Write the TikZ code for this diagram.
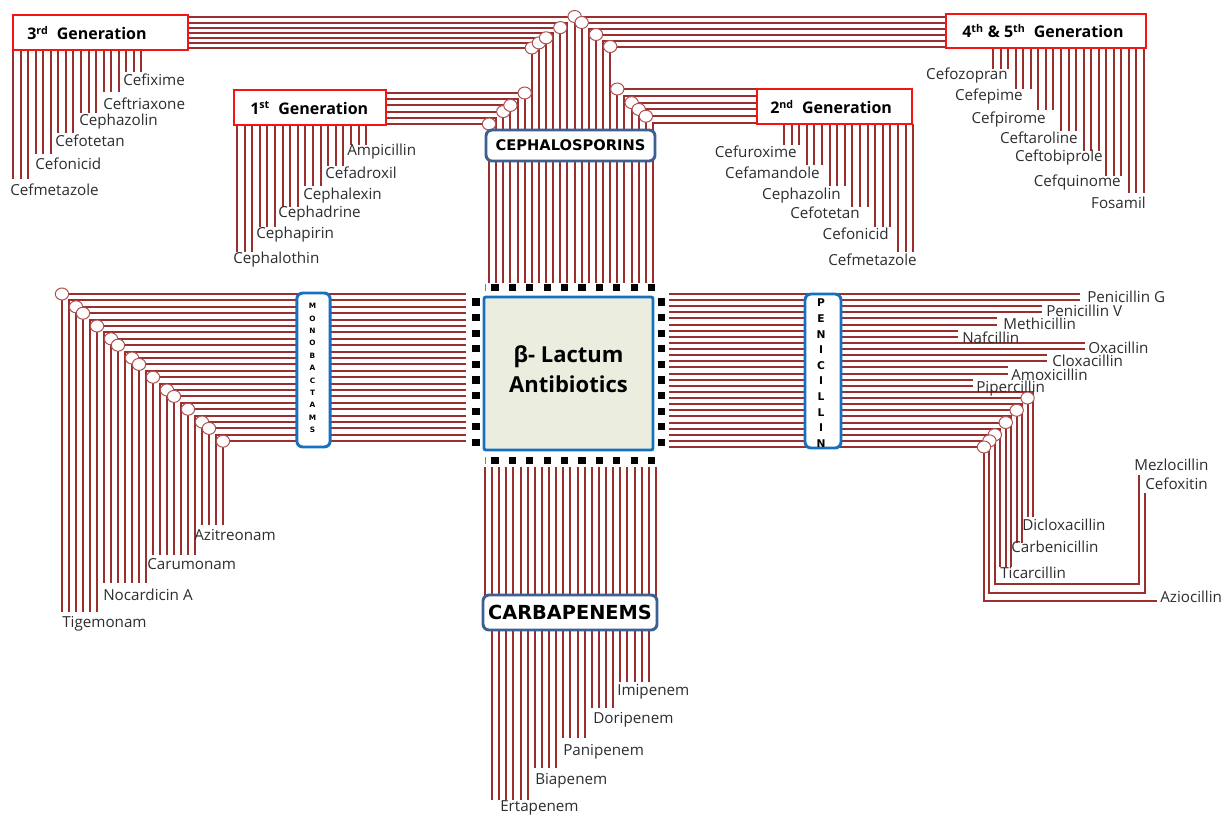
\documentclass[tikz,border=0pt]{standalone}
\usepackage{fontspec}
\setmainfont{Open Sans}
\newfontfamily\capfont{DejaVu Sans}
\usetikzlibrary{shapes.geometric}

\definecolor{wire}{RGB}{155,46,46}
\definecolor{jointrim}{RGB}{175,80,80}
\definecolor{genred}{RGB}{245,20,20}
\definecolor{capblue}{RGB}{60,96,146}
\definecolor{chipblue}{RGB}{22,112,192}
\definecolor{chipfill}{RGB}{235,238,222}
\definecolor{druggray}{RGB}{45,45,45}

% one group of hanging wires: x0, dx, last index, top y, list of end y (one per 3 wires)
\newcommand\hangwires[5]{%
  \foreach \ii in {0,...,#3}{%
    \pgfmathtruncatemacro\grp{int(\ii/3)}%
    \pgfmathsetmacro\ye{{#5}[\grp]}%
    \draw[wireline] ({#1+#2*\ii},#4) -- ({#1+#2*\ii},\ye);}}

\begin{document}
\begin{tikzpicture}[x=0.75pt,y=-0.75pt,
  wireline/.style={draw=wire,line width=1.5pt},
  joint/.style={ellipse,draw=jointrim,fill=white,line width=0.75pt,inner sep=0pt,minimum width=10pt,minimum height=9pt},
  pad/.style={fill=black,inner sep=0pt,minimum size=5.3pt},
  genbox/.style={draw=genred,line width=1.5pt,fill=white,inner sep=0pt,minimum height=26.25pt},
  gentext/.style={font=\bfseries\fontsize{12}{14}\selectfont,anchor=west,inner sep=0pt},
  capbox/.style={draw=capblue,line width=2.2pt,fill=white,rounded corners=4.5pt,inner sep=0pt,font=\capfont\bfseries},
  chipbox/.style={draw=chipblue,line width=2.2pt,fill=white,rounded corners=4.5pt,inner sep=0pt,minimum width=25pt,minimum height=115.5pt},
  drug/.style={font=\fontsize{11.4}{13}\selectfont,text=druggray,inner sep=0pt},
  chipletter/.style={font=\capfont\bfseries\fontsize{5.5}{6}\selectfont,inner sep=0pt},
  penletter/.style={font=\capfont\bfseries\fontsize{8}{9}\selectfont,inner sep=0pt},
]
\useasboundingbox (0,0) rectangle (1223,814);

% ---------- cephalosporin wires ----------
\foreach \k in {0,...,5}{%
  \pgfmathsetmacro\xx{489+7.13*\k}\pgfmathsetmacro\yy{124-6.2*\k}%
  \draw[wireline] (386,\yy) -| (\xx,283);}
\foreach \k in {6,...,11}{%
  \pgfmathsetmacro\xx{489+7.13*\k}\pgfmathsetmacro\yy{48-5.1*(\k-6)}%
  \draw[wireline] (188,\yy) -| (\xx,283);}
\draw[wireline] (188,16.5) -- (946,16.5);
\draw[wireline] (574.6,16.5) -- (574.6,283);
\foreach \k in {13,...,17}{%
  \pgfmathsetmacro\xx{489+7.13*\k}\pgfmathsetmacro\yy{22.5+6*(\k-13)}%
  \draw[wireline] (946,\yy) -| (\xx,283);}
\foreach \k in {18,...,23}{%
  \pgfmathsetmacro\xx{489+7.13*\k}\pgfmathsetmacro\yy{89+6.8*(\k-18)}%
  \draw[wireline] (757,\yy) -| (\xx,283);}

% hanging wires under the generation boxes
\hangwires{13}{7.55}{17}{50}{179,154,133,113,92,72}
\hangwires{237}{7.6}{17}{125}{252,227,207,186,166,145}
\hangwires{784}{7.6}{17}{124}{145,165,186,207,227,252}
\hangwires{993}{7.55}{20}{48}{69,89,110,131,151,176,193}

% ---------- monobactam wires ----------
\foreach \i in {0,...,23}{%
  \pgfmathsetmacro\yy{294+6.4*\i}\pgfmathsetmacro\xx{62+7.0*\i}%
  \pgfmathsetmacro\ye{\i<6 ? 612 : (\i<13 ? 583 : (\i<20 ? 555 : 525))}%
  \draw[wireline] (466,\yy) -| (\xx,\ye);}

% ---------- penicillin wires ----------
\foreach \j/\xe in {0/1080,1/1080,2/1042,3/1042,4/997,5/997,6/958,7/958,8/1085,9/1085,10/1047,11/1047,12/1008,13/1008,14/973,15/973}
  \draw[wireline] (669,{294+6.12*\j}) -- (\xe,{294+6.12*\j});
\foreach \j/\ye in {16/517,17/517,18/543,19/543,20/567,21/567,22/567}
  \draw[wireline] (669,{294+6.12*\j}) -| ({1033-5.45*(\j-16)},\ye);
\draw[wireline] (669,434.76) -- (994.85,434.76) -- (994.85,584) -- (1139,584) -- (1139,475);
\draw[wireline] (669,440.88) -- (989.4,440.88) -- (989.4,593) -- (1145,593) -- (1145,493);
\draw[wireline] (669,447) -- (984,447) -- (984,601) -- (1157,601);

% ---------- carbapenem wires ----------
\foreach \q in {0,...,24}{%
  \pgfmathsetmacro\xx{485+7.12*\q}%
  \pgfmathsetmacro\ye{\q==0 ? 600 : (\q==24 ? 600 : (\q<7 ? 800 : (\q<11 ? 768 : (\q<15 ? 738 : (\q<19 ? 708 : 682)))))}%
  \draw[wireline] (\xx,467) -- (\xx,\ye);}

% ---------- joints ----------
\foreach \x/\y [count=\n] in {489/124,503.3/111.6,510.4/105.4,524.7/93,
    531.8/48,538.9/42.9,546/37.8,560.3/27.6,574.6/16.5,
    581.7/22.5,596/34.5,610.2/46.5,
    617.3/89,631.6/102.6,638.7/109.4,645.9/116.2}
  \node[joint] (jc\n) at (\x,\y) {};
\foreach \i [count=\n] in {0,2,3,5,7,8,10,11,13,15,16,18,20,21,23}
  \node[joint] (jm\n) at ({62+7*\i},{294+6.4*\i}) {};
\foreach \j [count=\n] in {17,19,21,23,24,25}
  \node[joint] (jp\n) at ({1033-5.45*(\j-16)},{294+6.12*\j}) {};

% ---------- generation boxes ----------
\node[genbox,minimum width=131.25pt] (gen3) at (100.5,32.5) {};
\node[gentext] (gen3t) at (27,33) {3\textsuperscript{rd}\ \ Generation};
\node[genbox,minimum width=114pt] (gen1) at (310,107.5) {};
\node[gentext] (gen1t) at (250,108) {1\textsuperscript{st}\ \ Generation};
\node[genbox,minimum width=116.25pt] (gen2) at (834.5,106.5) {};
\node[gentext] (gen2t) at (770,107) {2\textsuperscript{nd}\ \ Generation};
\node[genbox,minimum width=150pt,minimum height=25.5pt] (gen45) at (1046,31) {};
\node[gentext] (gen45t) at (962,31) {4\textsuperscript{th} \& 5\textsuperscript{th}\ \ Generation};

% ---------- class labels ----------
\node[capbox,minimum width=126.75pt,minimum height=23.25pt,font=\capfont\bfseries\fontsize{11}{13}\selectfont] (ceph) at (570.5,145.5) {CEPHALOSPORINS};
\node[capbox,minimum width=130.5pt,minimum height=26.25pt,font=\capfont\bfseries\fontsize{14.5}{16}\selectfont] (carb) at (570,612.5) {CARBAPENEMS};
\node[chipbox] (mono) at (313.5,370) {};
\foreach \ch [count=\n from 0] in {M,O,N,O,B,A,C,T,A,M,S}
  \node[chipletter] (mono\n) at (312.5,{306+12.4*\n}) {\ch};
\node[chipbox,minimum width=27pt] (peni) at (823,371) {};
\foreach \ch [count=\n from 0] in {P,E,N,I,C,I,L,L,I,N}
  \node[penletter] (peni\n) at (821,{303+15.6*\n}) {\ch};

% ---------- core ----------
\node[draw=chipblue,line width=2.2pt,fill=chipfill,rounded corners=1.5pt,minimum width=126.75pt,minimum height=114.75pt,inner sep=0pt] (core) at (568.5,373.5) {};
\node[align=center,inner sep=0pt,font=\bfseries\fontsize{16.5}{22.5}\selectfont] (coretext) at (568.5,369) {β- Lactum\\Antibiotics};
\foreach \i in {0,...,9}{%
  \node[pad] (padT\i) at ({495+17.4*\i},287.5) {};
  \node[pad] (padB\i) at ({495+17.4*\i},460.5) {};
  \node[pad] (padL\i) at (476,{302+15.6*\i}) {};
  \node[pad] (padR\i) at (661.5,{302+15.6*\i}) {};}
\draw[gray,line width=0.5pt] (485,283.5) -- (485,291);
\draw[gray,line width=0.5pt] (485,457) -- (485,464);

% ---------- drug names ----------
\begin{scope}[every node/.style={drug,anchor=west}]
\node (d3a) at (10,190) {Cefmetazole};
\node (d3b) at (35,164) {Cefonicid};
\node (d3c) at (55,141) {Cefotetan};
\node (d3d) at (79,122) {Cephazolin};
\node (d3e) at (103,104) {Ceftriaxone};
\node (d3f) at (123,80) {Cefixime};
\node (d1a) at (233,260) {Cephalothin};
\node (d1b) at (256,235) {Cephapirin};
\node (d1c) at (278,214) {Cephadrine};
\node (d1d) at (303,196) {Cephalexin};
\node (d1e) at (325,173) {Cefadroxil};
\node (d1f) at (347,152) {Ampicillin};
\node (dma) at (62,624) {Tigemonam};
\node (dmb) at (103,595) {Nocardicin A};
\node (dmc) at (147,564) {Carumonam};
\node (dmd) at (194,535) {Azitreonam};
\node (dca) at (500,808) {Ertapenem};
\node (dcb) at (535,781) {Biapenem};
\node (dcc) at (563,752) {Panipenem};
\node (dcd) at (593,720) {Doripenem};
\node (dce) at (617,692) {Imipenem};
\node (dpa) at (1087,297) {Penicillin G};
\node (dpb) at (1046,311) {Penicillin V};
\node (dpc) at (1003,324) {Methicillin};
\node (dpd) at (962,338) {Nafcillin};
\node (dpe) at (1088,348) {Oxacillin};
\node (dpf) at (1052,361) {Cloxacillin};
\node (dpg) at (1011,375) {Amoxicillin};
\node (dph) at (976,389) {Pipercillin};
\node (dpi) at (1022,525) {Dicloxacillin};
\node (dpj) at (1011,547) {Carbenicillin};
\node (dpk) at (1000,573) {Ticarcillin};
\node (dpl) at (1134,465) {Mezlocillin};
\node (dpm) at (1145,484) {Cefoxitin};
\node (dpn) at (1160,597) {Aziocillin};
\end{scope}
\begin{scope}[every node/.style={drug,anchor=east}]
\node (d2a) at (797,152) {Cefuroxime};
\node (d2b) at (820,173) {Cefamandole};
\node (d2c) at (841,196) {Cephazolin};
\node (d2d) at (860,213) {Cefotetan};
\node (d2e) at (889,234) {Cefonicid};
\node (d2f) at (917,260) {Cefmetazole};
\node (d4a) at (1008,76) {Cefozopran};
\node (d4b) at (1023,97) {Cefepime};
\node (d4c) at (1046,120) {Cefpirome};
\node (d4d) at (1078,138) {Ceftaroline};
\node (d4e) at (1103,158) {Ceftobiprole};
\node (d4f) at (1121,183) {Cefquinome};
\node (d4g) at (1146,203) {Fosamil};
\end{scope}
\end{tikzpicture}
\end{document}
